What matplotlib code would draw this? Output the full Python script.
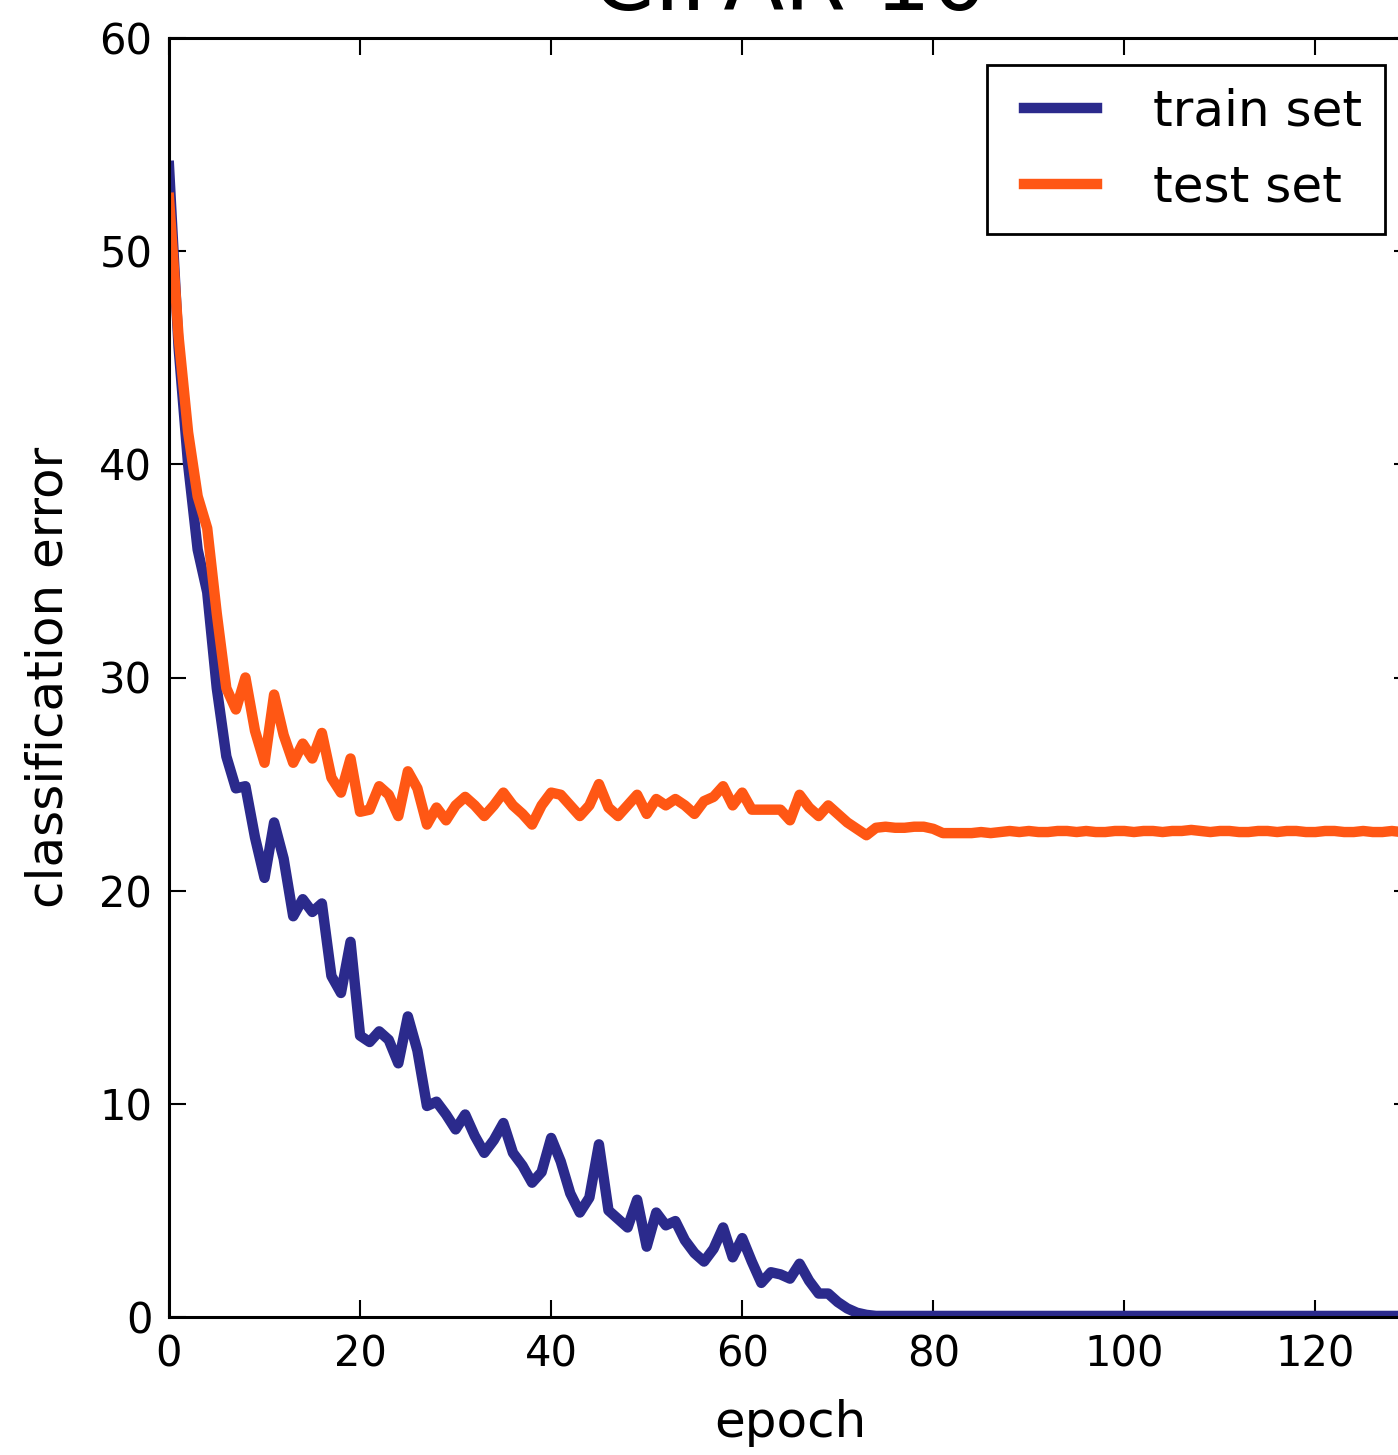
import matplotlib
matplotlib.use('Agg')
import matplotlib.pyplot as plt
from matplotlib.lines import Line2D
from matplotlib.legend_handler import HandlerLine2D
import numpy as np

# Данные
epochs = np.arange(0, 131)

train_err = [
    54.0, 45.5, 40.0, 36.0, 34.0, 29.5, 26.3, 24.8, 24.9, 22.5,
    20.6, 23.2, 21.5, 18.8, 19.6, 19.0, 19.4, 16.0, 15.2, 17.6,
    13.2, 12.9, 13.4, 13.0, 11.9, 14.1, 12.5, 9.9, 10.1, 9.5,
    8.8, 9.5, 8.5, 7.7, 8.3, 9.1, 7.7, 7.1, 6.3, 6.8,
    8.4, 7.3, 5.8, 4.9, 5.6, 8.1, 5.0, 4.6, 4.2, 5.5,
    3.3, 4.9, 4.3, 4.5, 3.6, 3.0, 2.6, 3.2, 4.2, 2.8,
    3.7, 2.6, 1.6, 2.1, 2.0, 1.8, 2.5, 1.7, 1.1, 1.1,
    0.7, 0.4, 0.2, 0.1, 0.05, 0.05, 0.05, 0.05, 0.05, 0.05,
    0.05, 0.05, 0.05, 0.05, 0.05, 0.05, 0.05, 0.05, 0.05, 0.05,
    0.05, 0.05, 0.05, 0.05, 0.05, 0.05, 0.05, 0.05, 0.05, 0.05,
    0.05, 0.05, 0.05, 0.05, 0.05, 0.05, 0.05, 0.05, 0.05, 0.05,
    0.05, 0.05, 0.05, 0.05, 0.05, 0.05, 0.05, 0.05, 0.05, 0.05,
    0.05, 0.05, 0.05, 0.05, 0.05, 0.05, 0.05, 0.05, 0.05, 0.05,
    0.05,
]

test_err = [
    52.5, 46.0, 41.5, 38.5, 37.0, 33.0, 29.5, 28.5, 30.0, 27.5,
    26.0, 29.2, 27.3, 26.0, 26.9, 26.2, 27.4, 25.3, 24.6, 26.2,
    23.7, 23.8, 24.9, 24.5, 23.5, 25.6, 24.8, 23.1, 23.9, 23.3,
    24.0, 24.4, 24.0, 23.5, 24.0, 24.6, 24.0, 23.6, 23.1, 24.0,
    24.6, 24.5, 24.0, 23.5, 24.0, 25.0, 23.9, 23.5, 24.0, 24.5,
    23.6, 24.3, 24.0, 24.3, 24.0, 23.6, 24.2, 24.4, 24.9, 24.0,
    24.6, 23.8, 23.8, 23.8, 23.8, 23.3, 24.5, 23.9, 23.5, 24.0,
    23.6, 23.2, 22.9, 22.6, 22.95, 23.0, 22.95, 22.95, 23.0, 23.0,
    22.9, 22.7, 22.7, 22.7, 22.7, 22.75, 22.7, 22.75, 22.8, 22.75,
    22.8, 22.75, 22.75, 22.8, 22.8, 22.75, 22.8, 22.75, 22.75, 22.8,
    22.8, 22.75, 22.8, 22.8, 22.75, 22.8, 22.8, 22.85, 22.8, 22.75,
    22.8, 22.8, 22.75, 22.75, 22.8, 22.8, 22.75, 22.8, 22.8, 22.75,
    22.75, 22.8, 22.8, 22.75, 22.75, 22.8, 22.75, 22.75, 22.8, 22.75,
    22.75,
]

x_ticks = [0, 20, 40, 60, 80, 100, 120]
y_ticks = [0, 10, 20, 30, 40, 50, 60]

fig = plt.figure(figsize=(13.98, 14.55), dpi=100)
# правая граница осей выходит за край картинки, как на оригинале
ax = fig.add_axes([169 / 1398, 1 - 1317 / 1455, 1242 / 1398, 1279 / 1455])

ax.plot(epochs, train_err, color='#2b2a8c', linewidth=7.5, label='train set',
        solid_joinstyle='round')
ax.plot(epochs, test_err, color='#ff5714', linewidth=7.5, label='test set',
        solid_joinstyle='round')

ax.set_xlim(0, 130)
ax.set_ylim(0, 60)
ax.set_xticks(x_ticks)
ax.set_yticks(y_ticks)
ax.tick_params(direction='in', length=12, width=1.5, labelsize=30,
               top=True, right=True, pad=12)
for s in ax.spines.values():
    s.set_linewidth(2.2)

ax.set_xlabel('epoch', fontsize=36, labelpad=17)
ax.set_ylabel('classification error', fontsize=36, labelpad=19)
ax.set_title('CIFAR-10', fontsize=64, pad=20)

leg = ax.legend(loc='upper right', bbox_to_anchor=(1385 / 1398, 1 - 65 / 1455),
                bbox_transform=fig.transFigure, borderaxespad=0,
                fontsize=36, fancybox=False, framealpha=1,
                handlelength=1.74, handletextpad=1.13, labelspacing=0.55,
                borderpad=0.45,
                handler_map={Line2D: HandlerLine2D(xpad=0.28)})
leg.get_frame().set_edgecolor('black')
leg.get_frame().set_linewidth(2.0)

plt.savefig('out.png', dpi=100)
